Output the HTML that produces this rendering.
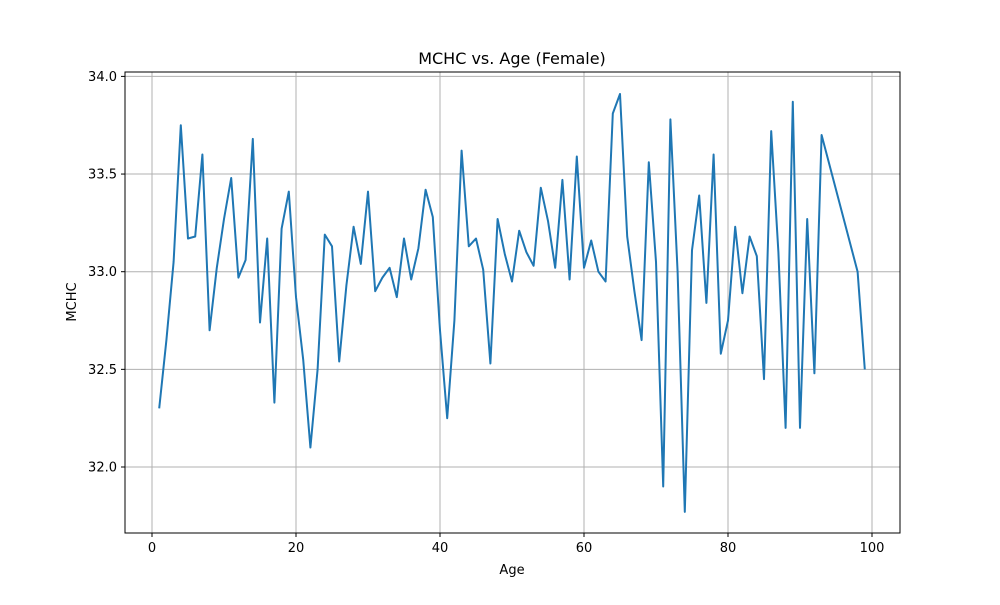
<!DOCTYPE html>
<html><head><meta charset="utf-8"><style>
body{margin:0;background:#fff;}
svg text{font-family:"DejaVu Sans","Liberation Sans",sans-serif;fill:#000;}
</style></head><body>
<svg id="chart" width="1000" height="600">
<rect width="1000" height="600" fill="#fff"/>
<g id="grid"></g>
<g id="axes"></g>
<path id="line" fill="none" stroke="#1f77b4" stroke-width="2" stroke-linejoin="round"/>
<rect x="125" y="72" width="775" height="461" fill="none" stroke="#000" stroke-width="1"/>
<text x="512" y="64" text-anchor="middle" font-size="16">MCHC vs. Age (Female)</text>
<text x="512" y="574" text-anchor="middle" font-size="13">Age</text>
<text x="76" y="302" text-anchor="middle" font-size="13" transform="rotate(-90 76 302)">MCHC</text>
</svg>
<script>
const ages=[1,2,3,4,5,6,7,8,9,10,11,12,13,14,15,16,17,18,19,20,21,22,23,24,25,26,27,28,29,30,31,32,33,34,35,36,37,38,39,40,41,42,43,44,45,46,47,48,49,50,51,52,53,54,55,56,57,58,59,60,61,62,63,64,65,66,67,68,69,70,71,72,73,74,75,76,77,78,79,80,81,82,83,84,85,86,87,88,89,90,91,92,93,98,99];
const mchc=[32.3,32.65,33.05,33.75,33.17,33.18,33.6,32.7,33.02,33.27,33.48,32.97,33.06,33.68,32.74,33.17,32.33,33.22,33.41,32.87,32.55,32.1,32.5,33.19,33.13,32.54,32.93,33.23,33.04,33.41,32.9,32.97,33.02,32.87,33.17,32.96,33.12,33.42,33.28,32.7,32.25,32.75,33.62,33.13,33.17,33.01,32.53,33.27,33.09,32.95,33.21,33.1,33.03,33.43,33.26,33.02,33.47,32.96,33.59,33.02,33.16,33.0,32.95,33.81,33.91,33.18,32.9,32.65,33.56,33.05,31.9,33.78,33.0,31.77,33.11,33.39,32.84,33.6,32.58,32.75,33.23,32.89,33.18,33.08,32.45,33.72,33.1,32.2,33.87,32.2,33.27,32.48,33.7,33.0,32.5];
const xTicks=[0,20,40,60,80,100];
const yTicks=[32.0,32.5,33.0,33.5,34.0];
const sx=v=>152+v*7.2;
const sy=v=>467-(v-32)*195.3;
const NS="http://www.w3.org/2000/svg";
const grid=document.getElementById('grid'),axes=document.getElementById('axes');
function mk(tag,attrs,parent){const e=document.createElementNS(NS,tag);for(const k in attrs)e.setAttribute(k,attrs[k]);parent.appendChild(e);return e;}
xTicks.forEach(t=>{
 const x=sx(t);
 const g=mk('line',{x1:x,x2:x,y1:72,y2:533,stroke:'#b0b0b0','stroke-width':1},grid);
 
 
 const tk=mk('line',{x1:x,x2:x,y1:533,y2:537,stroke:'#000'},axes);
 
 
 const tx=mk('text',{x:x,y:552,'text-anchor':'middle','font-size':13},axes);
 tx.textContent=t;
 
 
});
yTicks.forEach(t=>{
 const y=sy(t);
 const g=mk('line',{x1:125,x2:900,y1:y,y2:y,stroke:'#b0b0b0','stroke-width':1},grid);
 
 
 const tk=mk('line',{x1:121,x2:125,y1:y,y2:y,stroke:'#000'},axes);
 
 
 const tx=mk('text',{x:117,y:y+4.5,'text-anchor':'end','font-size':13},axes);
 tx.textContent=t.toFixed(1);
 
 
});
document.getElementById('line').setAttribute('d',ages.map((a,i)=>(i?'L':'M')+sx(a).toFixed(1)+','+sy(mchc[i]).toFixed(1)).join(''));
</script>
</body></html>
